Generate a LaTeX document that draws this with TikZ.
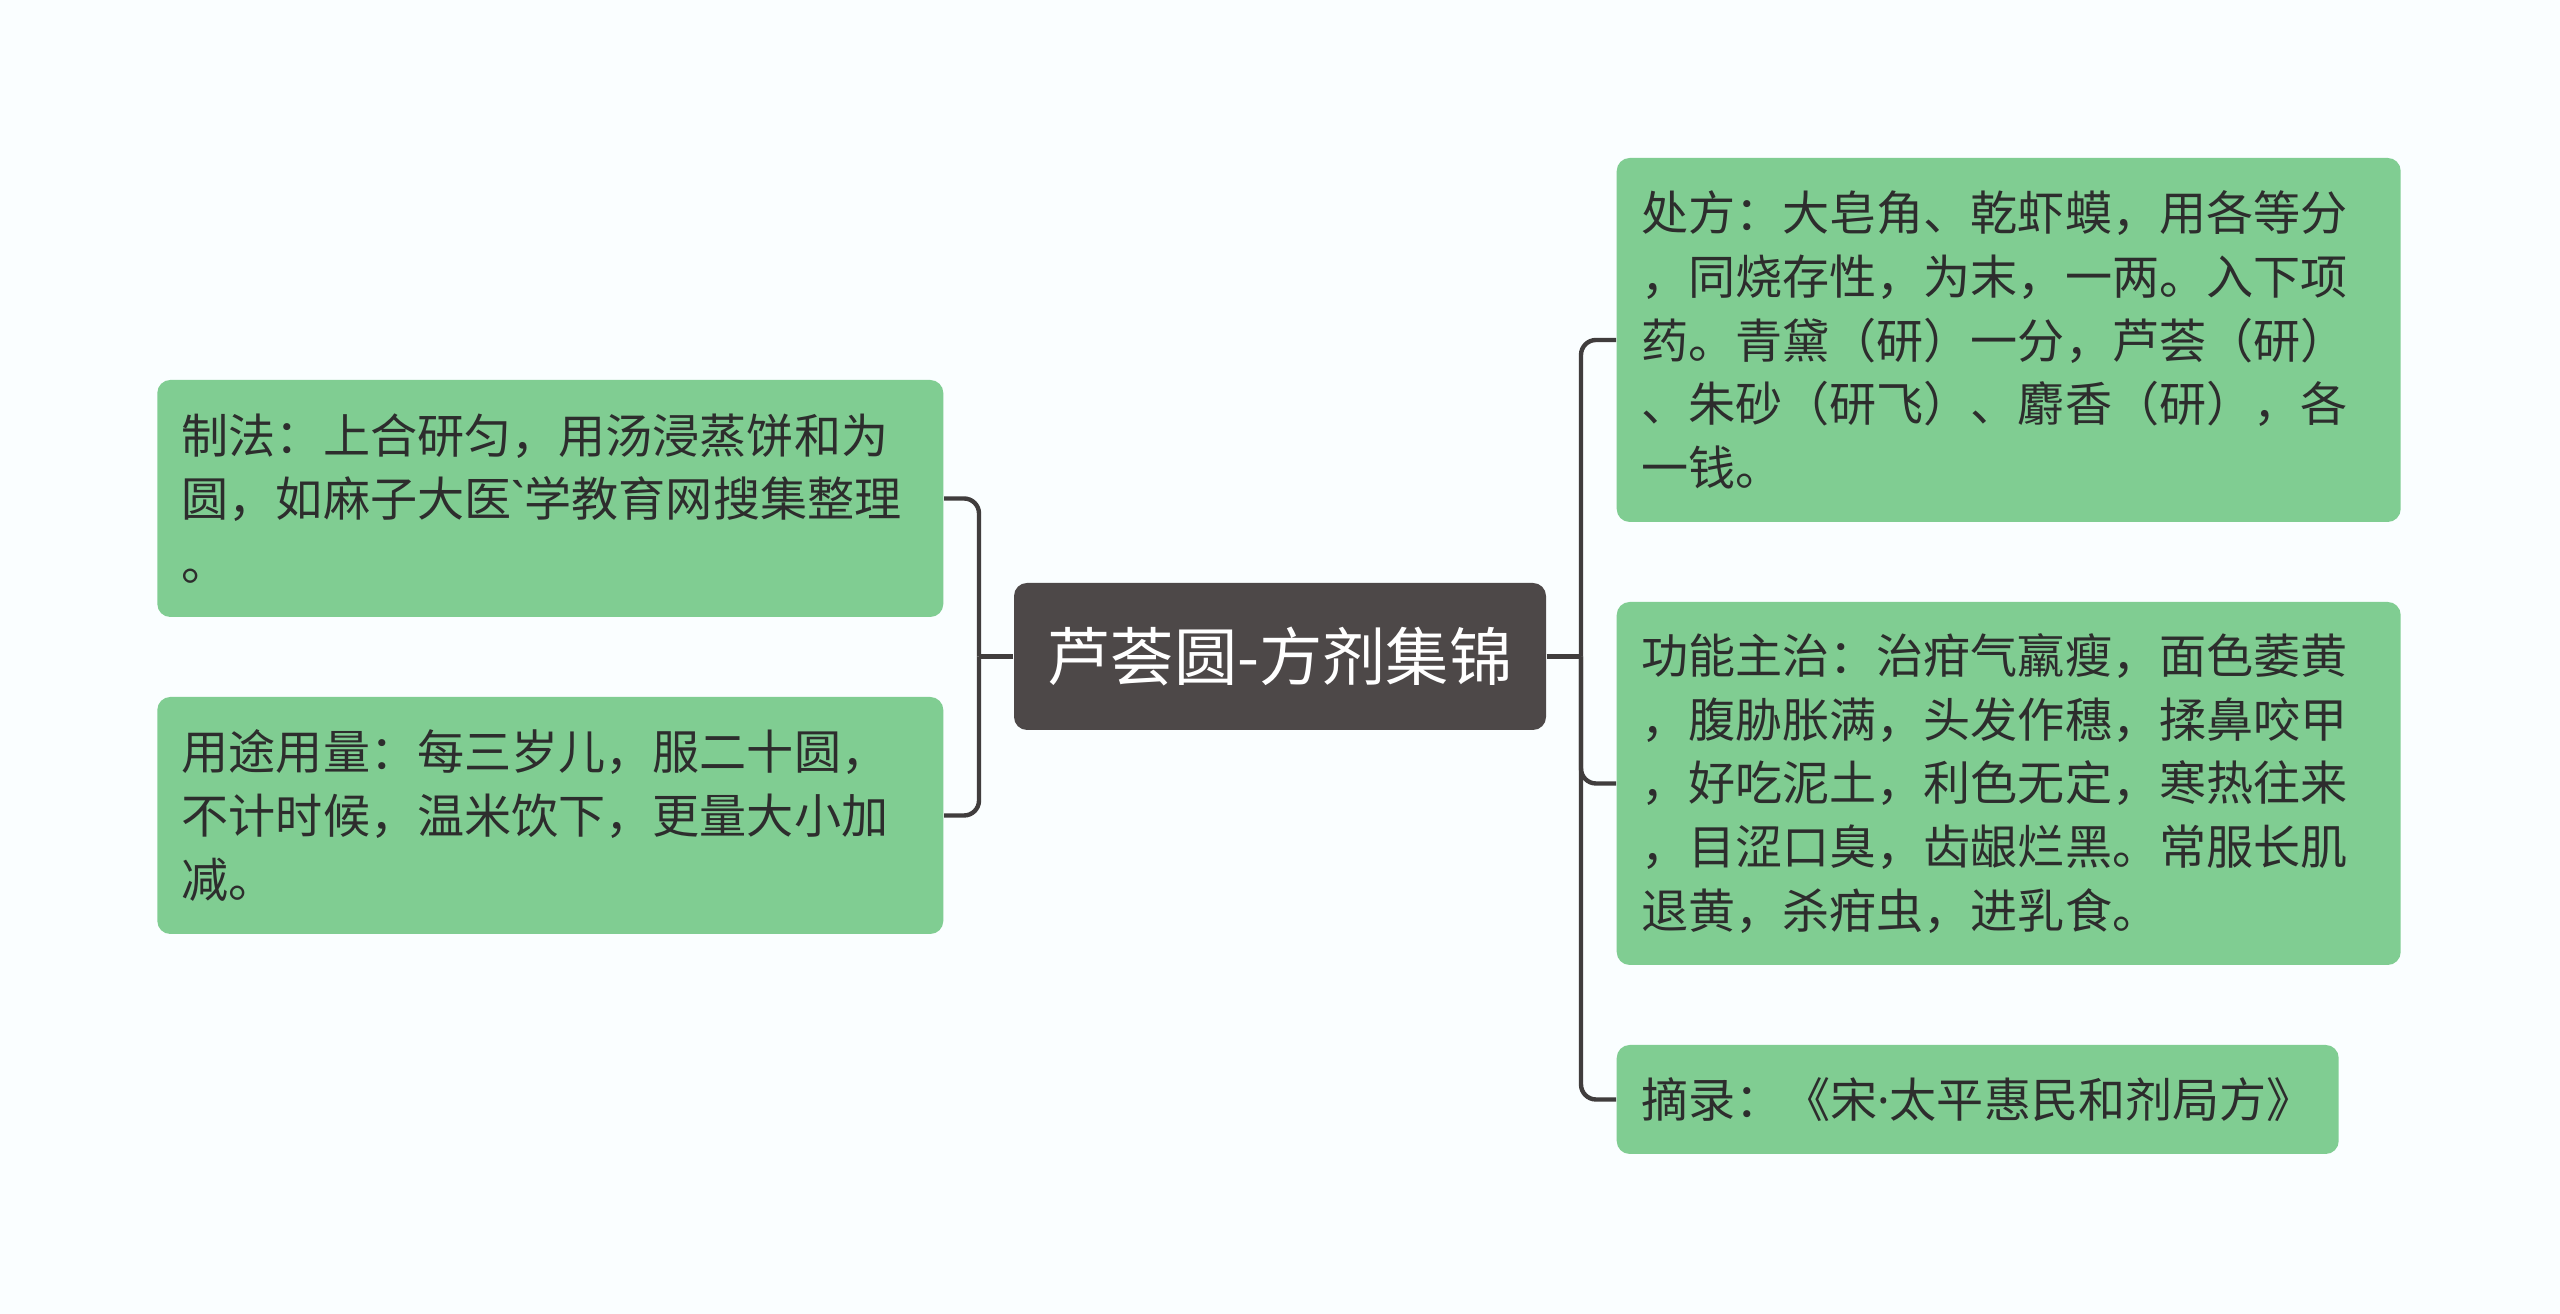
\documentclass[tikz,border=0pt]{standalone}
\usepackage{fontspec}
\setmainfont{Noto Sans CJK SC}[Ligatures=TeXOff]
\newfontfamily\latinfont{Noto Sans}
\usetikzlibrary{positioning}
\definecolor{bgcol}{RGB}{250,254,255}
\definecolor{leafcol}{RGB}{128,205,146}
\definecolor{rootcol}{RGB}{77,72,72}
\definecolor{linecol}{RGB}{64,61,61}
\definecolor{txtcol}{RGB}{45,45,45}

\begin{document}
\begin{tikzpicture}[
  every node/.style={font=\fontsize{13.4pt}{18.1pt}\selectfont},
  leaf/.style={fill=leafcol, rounded corners=0.13cm, text=txtcol, align=left, inner xsep=0.245cm, inner ysep=0pt},
  root/.style={fill=rootcol, rounded corners=0.13cm, text=white, font=\fontsize{18pt}{22pt}\selectfont, minimum width=5.32cm, minimum height=1.47cm},
  branch/.style={draw=linecol, line width=1.25pt, rounded corners=0.15cm},
]
\fill[bgcol] (0,0) rectangle (25.6,13.14);
\useasboundingbox (0,0) rectangle (25.6,13.14);

\node[root] (root) at (12.80,6.575) {芦荟圆-方剂集锦};

\node[leaf, anchor=east, text width=7.37cm, minimum height=2.37cm] (zhifa) at (9.44,8.155)
  {制法：上合研匀，用汤浸蒸饼和为\\圆，如麻子大医{\latinfont\symbol{96}}学教育网搜集整理\\。};
\node[leaf, anchor=east, text width=7.37cm, minimum height=2.37cm] (yongtu) at (9.44,4.985)
  {用途用量：每三岁儿，服二十圆，\\不计时候，温米饮下，更量大小加\\减。};

\node[leaf, anchor=west, text width=7.35cm, minimum height=3.64cm] (chufang) at (16.16,9.74)
  {处方：大皂角、乾虾蟆，用各等分\\，同烧存性，为末，一两。入下项\\药。青黛（研）一分，芦荟（研）\\、朱砂（研飞）、麝香（研），各\\一钱。};
\node[leaf, anchor=west, text width=7.35cm, minimum height=3.63cm] (gongneng) at (16.16,5.305)
  {功能主治：治疳气羸瘦，面色萎黄\\，腹胁胀满，头发作穗，揉鼻咬甲\\，好吃泥土，利色无定，寒热往来\\，目涩口臭，齿龈烂黑。常服长肌\\退黄，杀疳虫，进乳食。};
\node[leaf, anchor=west, minimum width=7.22cm, minimum height=1.09cm] (zhailu) at (16.16,2.145)
  {摘录：《宋{\latinfont ·}太平惠民和剂局方》};

\coordinate (lj) at (9.79,6.575);
\coordinate (rj) at (15.81,6.575);
\draw[branch] (root.west) -- (lj);
\draw[branch] (lj) |- (zhifa.east);
\draw[branch] (lj) |- (yongtu.east);
\draw[branch] (root.east) -- (rj);
\draw[branch] (rj) |- (chufang.west);
\draw[branch] (rj) |- (gongneng.west);
\draw[branch] (rj) |- (zhailu.west);
\end{tikzpicture}
\end{document}
